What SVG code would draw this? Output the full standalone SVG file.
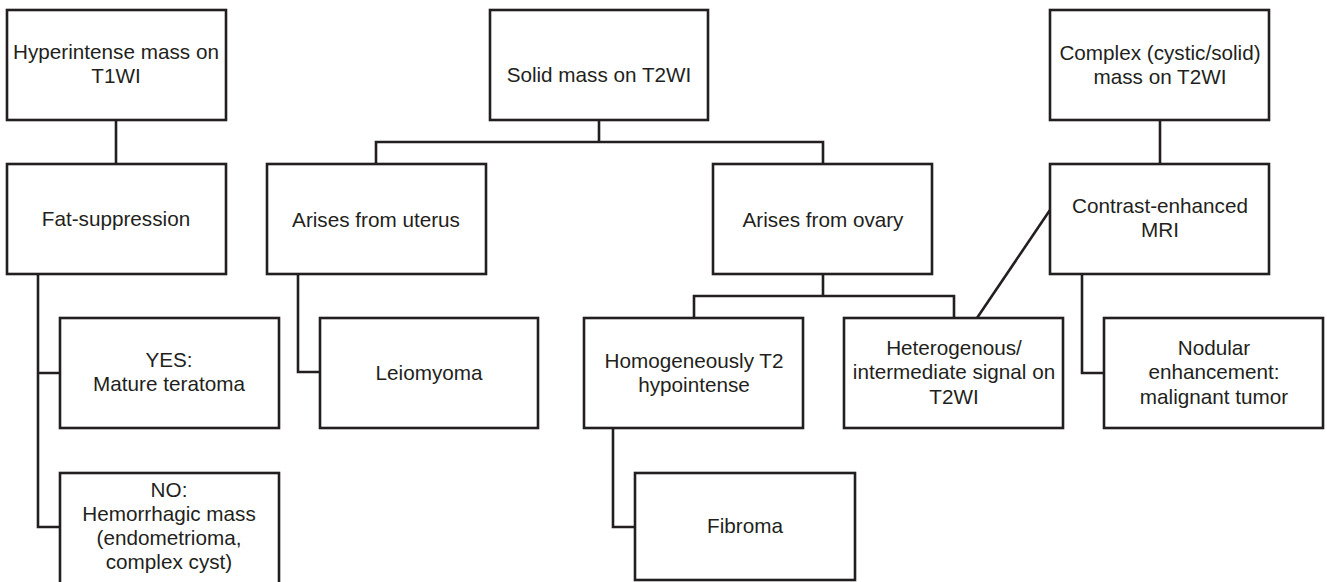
<svg xmlns="http://www.w3.org/2000/svg" width="1327" height="582" viewBox="0 0 1327 582">
<style>
.box{fill:#fff;stroke:#231f20;stroke-width:2.6}
.ln{fill:none;stroke:#231f20;stroke-width:2.6}
text{font-family:"Liberation Sans",Arial,sans-serif;font-size:20.7px;fill:#231f20;text-anchor:middle}
</style>
<rect width="1327" height="582" fill="#fff"/>
<g id="connectors">
<path class="ln" d="M116 120V164"/>
<path class="ln" d="M38 274V527H60M38 373H60"/>
<path class="ln" d="M599 120V142M376 164V142H823V164"/>
<path class="ln" d="M298 274V372H320"/>
<path class="ln" d="M823 274V296M694 318V296H954V318"/>
<path class="ln" d="M613 428V527H635"/>
<path class="ln" d="M1160 120V164"/>
<path class="ln" d="M1050 210L977 318"/>
<path class="ln" d="M1082 274V373H1104"/>
</g>
<g id="n1"><rect class="box" x="7" y="10" width="219" height="110"/><text x="116" y="59">Hyperintense mass on</text><text x="116" y="83">T1WI</text></g>
<g id="n2"><rect class="box" x="7" y="164" width="219" height="110"/><text x="116" y="226">Fat-suppression</text></g>
<g id="n3"><rect class="box" x="60" y="318" width="219" height="110"/><text x="169" y="367">YES:</text><text x="169" y="391">Mature teratoma</text></g>
<g id="n4"><rect class="box" x="60" y="473" width="219" height="112"/><text x="169" y="497">NO:</text><text x="169" y="521">Hemorrhagic mass</text><text x="169" y="545">(endometrioma,</text><text x="169" y="569">complex cyst)</text></g>
<g id="n5"><rect class="box" x="490" y="10" width="218" height="110"/><text x="599" y="82">Solid mass on T2WI</text></g>
<g id="n6"><rect class="box" x="267" y="164" width="219" height="110"/><text x="376" y="227">Arises from uterus</text></g>
<g id="n7"><rect class="box" x="320" y="318" width="218" height="110"/><text x="429" y="380">Leiomyoma</text></g>
<g id="n8"><rect class="box" x="713" y="164" width="219" height="110"/><text x="823" y="227">Arises from ovary</text></g>
<g id="n9"><rect class="box" x="584" y="318" width="219" height="110"/><text x="694" y="368">Homogeneously T2</text><text x="694" y="392">hypointense</text></g>
<g id="n10"><rect class="box" x="635" y="473" width="220" height="107"/><text x="745" y="533">Fibroma</text></g>
<g id="n11"><rect class="box" x="844" y="318" width="219" height="110"/><text x="954" y="355">Heterogenous/</text><text x="954" y="379">intermediate signal on</text><text x="954" y="404">T2WI</text></g>
<g id="n12"><rect class="box" x="1050" y="10" width="219" height="110"/><text x="1160" y="60">Complex (cystic/solid)</text><text x="1160" y="84">mass on T2WI</text></g>
<g id="n13"><rect class="box" x="1050" y="164" width="219" height="110"/><text x="1160" y="213">Contrast-enhanced</text><text x="1160" y="237">MRI</text></g>
<g id="n14"><rect class="box" x="1104" y="318" width="219" height="110"/><text x="1214" y="355">Nodular</text><text x="1214" y="379">enhancement:</text><text x="1214" y="404">malignant tumor</text></g>
</svg>
